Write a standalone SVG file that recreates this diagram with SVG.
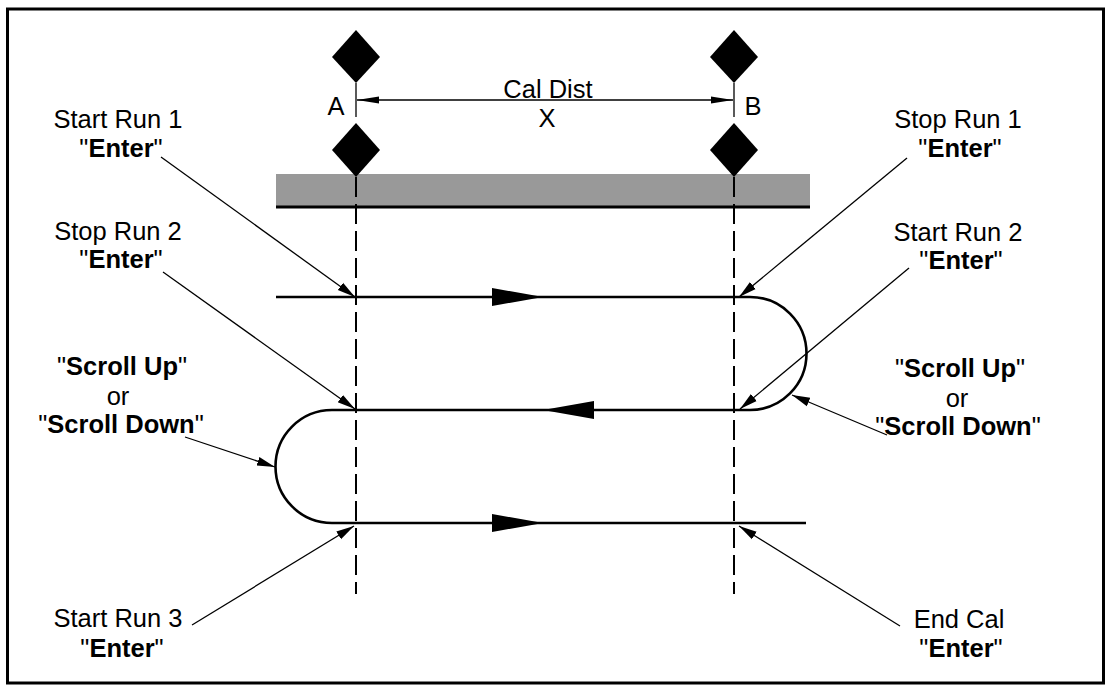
<svg xmlns="http://www.w3.org/2000/svg" width="1112" height="691" viewBox="0 0 1112 691">
<style>
text{font-family:"Liberation Sans",Arial,sans-serif;font-size:25.5px;fill:#000;text-anchor:middle}
.b{font-weight:bold}
.lead{stroke:#000;stroke-width:1.3;fill:none;marker-end:url(#ah)}
.track{stroke:#000;stroke-width:2.6;fill:none}
.dash{stroke:#000;stroke-width:2;stroke-dasharray:20 7;fill:none}
.ext{stroke:#000;stroke-width:1.3}
</style>
<defs>
<marker id="ah" markerUnits="userSpaceOnUse" markerWidth="20" markerHeight="12" viewBox="0 0 20 12" refX="18" refY="6" orient="auto">
<path d="M0,1.5 L18,6 L0,10.5 Z" fill="#000"/>
</marker>
<marker id="da" markerUnits="userSpaceOnUse" markerWidth="24" markerHeight="10" viewBox="0 0 24 10" refX="22" refY="5" orient="auto">
<path d="M0,1.5 L22,5 L0,8.5 Z" fill="#000"/>
</marker>
</defs>
<rect x="7.5" y="9" width="1096" height="674" fill="#fff" stroke="#000" stroke-width="3"/>

<g id="road">
<rect x="276" y="174" width="534" height="33" fill="#999"/>
<line x1="276" y1="207" x2="810" y2="207" stroke="#000" stroke-width="3"/>
</g>

<g id="markerA">
<polygon points="356,30 380,57 356,83 332,57" fill="#000"/>
<polygon points="356,123 380,150 356,177 332,150" fill="#000"/>
<line class="ext" x1="356" y1="83" x2="356" y2="117"/>
<line class="dash" x1="356" y1="177" x2="356" y2="594"/>
<text x="336" y="115">A</text>
</g>
<g id="markerB">
<polygon points="734,30 758,57 734,83 710,57" fill="#000"/>
<polygon points="734,123 758,150 734,177 710,150" fill="#000"/>
<line class="ext" x1="734" y1="83" x2="734" y2="117"/>
<line class="dash" x1="734" y1="177" x2="734" y2="594"/>
<text x="753" y="115">B</text>
</g>

<g id="caldist">
<line x1="545" y1="100" x2="357" y2="100" stroke="#000" stroke-width="1.3" marker-end="url(#da)"/>
<line x1="545" y1="100" x2="733" y2="100" stroke="#000" stroke-width="1.3" marker-end="url(#da)"/>
<text x="548" y="98">Cal Dist</text>
<text x="547" y="127">X</text>
</g>

<g id="path">
<path class="track" d="M276,297 H750 A56,56 0 0 1 750,410 H332 A56.5,56.5 0 0 0 332,523 H806"/>
<polygon points="492,288 543,297 492,306" fill="#000"/>
<polygon points="594,401 543,410 594,419" fill="#000"/>
<polygon points="492,514 543,523 492,532" fill="#000"/>
</g>

<g id="connectors">
<line class="lead" x1="161" y1="157" x2="355" y2="297"/>
<line class="lead" x1="163" y1="272" x2="355" y2="409"/>
<line class="lead" x1="907" y1="158" x2="739" y2="297"/>
<line class="lead" x1="909" y1="268" x2="740" y2="409"/>
<line class="lead" x1="887" y1="435" x2="792" y2="395"/>
<line class="lead" x1="185" y1="437" x2="275" y2="467"/>
<line class="lead" x1="192" y1="625" x2="354" y2="526"/>
<line class="lead" x1="900" y1="626" x2="739" y2="526"/>
</g>

<g id="startRun1">
<text x="118" y="128">Start Run 1</text>
<text x="121" y="157">"<tspan class="b">Enter</tspan>"</text>
</g>
<g id="stopRun2">
<text x="118" y="240">Stop Run 2</text>
<text x="121" y="268">"<tspan class="b">Enter</tspan>"</text>
</g>
<g id="stopRun1">
<text x="958" y="128">Stop Run 1</text>
<text x="960" y="157">"<tspan class="b">Enter</tspan>"</text>
</g>
<g id="startRun2">
<text x="958" y="241">Start Run 2</text>
<text x="961" y="269">"<tspan class="b">Enter</tspan>"</text>
</g>
<g id="scrollLeft">
<text x="122" y="375">"<tspan class="b">Scroll Up</tspan>"</text>
<text x="118" y="405">or</text>
<text x="121" y="433">"<tspan class="b">Scroll Down</tspan>"</text>
</g>
<g id="scrollRight">
<text x="960" y="377">"<tspan class="b">Scroll Up</tspan>"</text>
<text x="957" y="407">or</text>
<text x="958" y="435">"<tspan class="b">Scroll Down</tspan>"</text>
</g>
<g id="startRun3">
<text x="118" y="627">Start Run 3</text>
<text x="122" y="657">"<tspan class="b">Enter</tspan>"</text>
</g>
<g id="endCal">
<text x="959" y="628">End Cal</text>
<text x="961" y="657">"<tspan class="b">Enter</tspan>"</text>
</g>
</svg>
